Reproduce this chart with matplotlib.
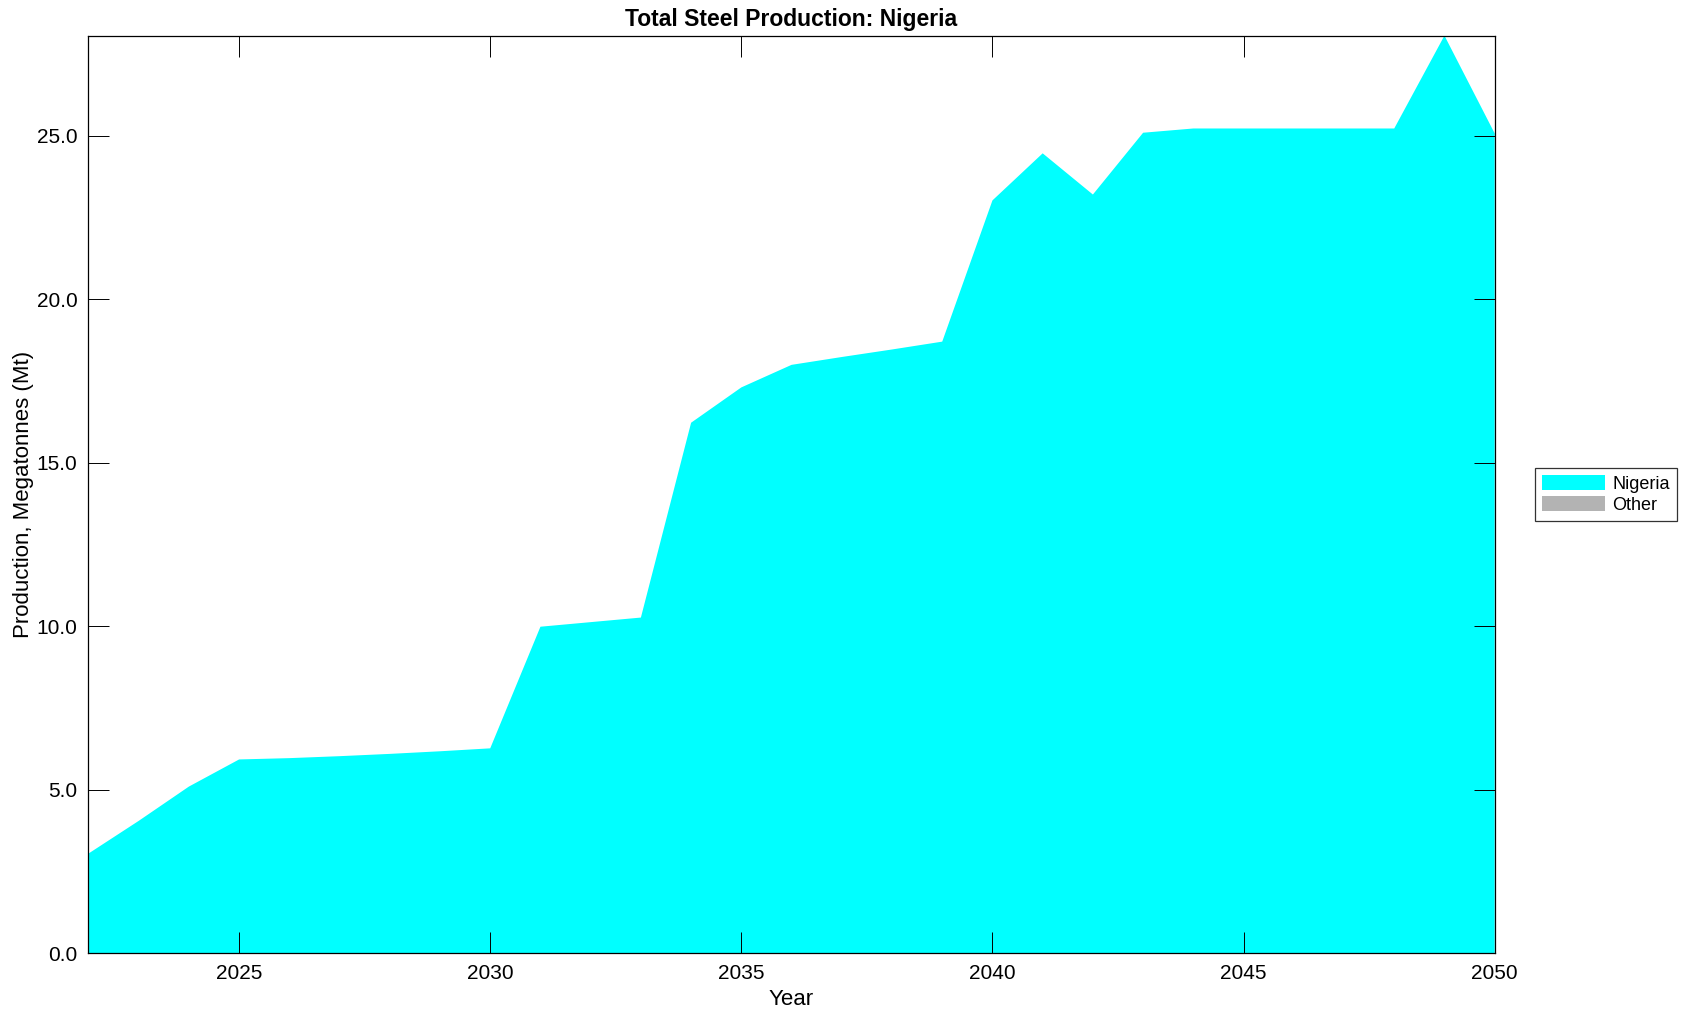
import numpy as np
import matplotlib.pyplot as plt

plt.rcParams['font.family'] = ['Liberation Sans', 'DejaVu Sans']

# Data
years = np.arange(2022, 2051)
nigeria = np.array([3.05, 4.05, 5.10, 5.93, 5.97, 6.03, 6.10, 6.18, 6.27,
                    9.99, 10.13, 10.27, 16.23, 17.31, 18.00, 18.24, 18.47,
                    18.71, 23.03, 24.47, 23.21, 25.10, 25.23, 25.23, 25.23,
                    25.23, 25.23, 28.07, 25.08])
other = np.zeros(len(years))

series_names = ["Nigeria", "Other"]
colors = ["#00FFFF", "#B3B3B3"]

fig = plt.figure(figsize=(16.91, 10.21), dpi=100)
ax = fig.add_axes([0.0523, 0.0663, 0.8316, 0.8988])

ax.stackplot(years, nigeria, other, colors=colors, labels=series_names, linewidth=0)

ax.set_xlim(2022, 2050)
ax.set_ylim(0, nigeria.max())
ax.set_xticks(np.arange(2025, 2051, 5))
ax.set_yticks(np.arange(0, 26, 5))
ax.yaxis.set_major_formatter(plt.FormatStrFormatter('%.1f'))

ax.tick_params(direction='in', length=15, width=0.7, top=True, right=True,
               labelsize=15, pad=8)
for s in ax.spines.values():
    s.set_linewidth(0.9)

ax.set_title("Total Steel Production: Nigeria", fontsize=16.5, fontweight='bold', pad=7)
ax.set_xlabel("Year", fontsize=16, labelpad=4)
ax.set_ylabel("Production, Megatonnes (Mt)", fontsize=16, labelpad=2)

leg = ax.legend(loc='center left', bbox_to_anchor=(1.022, 0.5), fontsize=13,
                frameon=True, fancybox=False, edgecolor='black',
                handlelength=3.5, handleheight=0.9, borderpad=0.4,
                labelspacing=0.2, handletextpad=0.4)
leg.get_frame().set_linewidth(0.9)

fig.savefig("out.png", dpi=100)
